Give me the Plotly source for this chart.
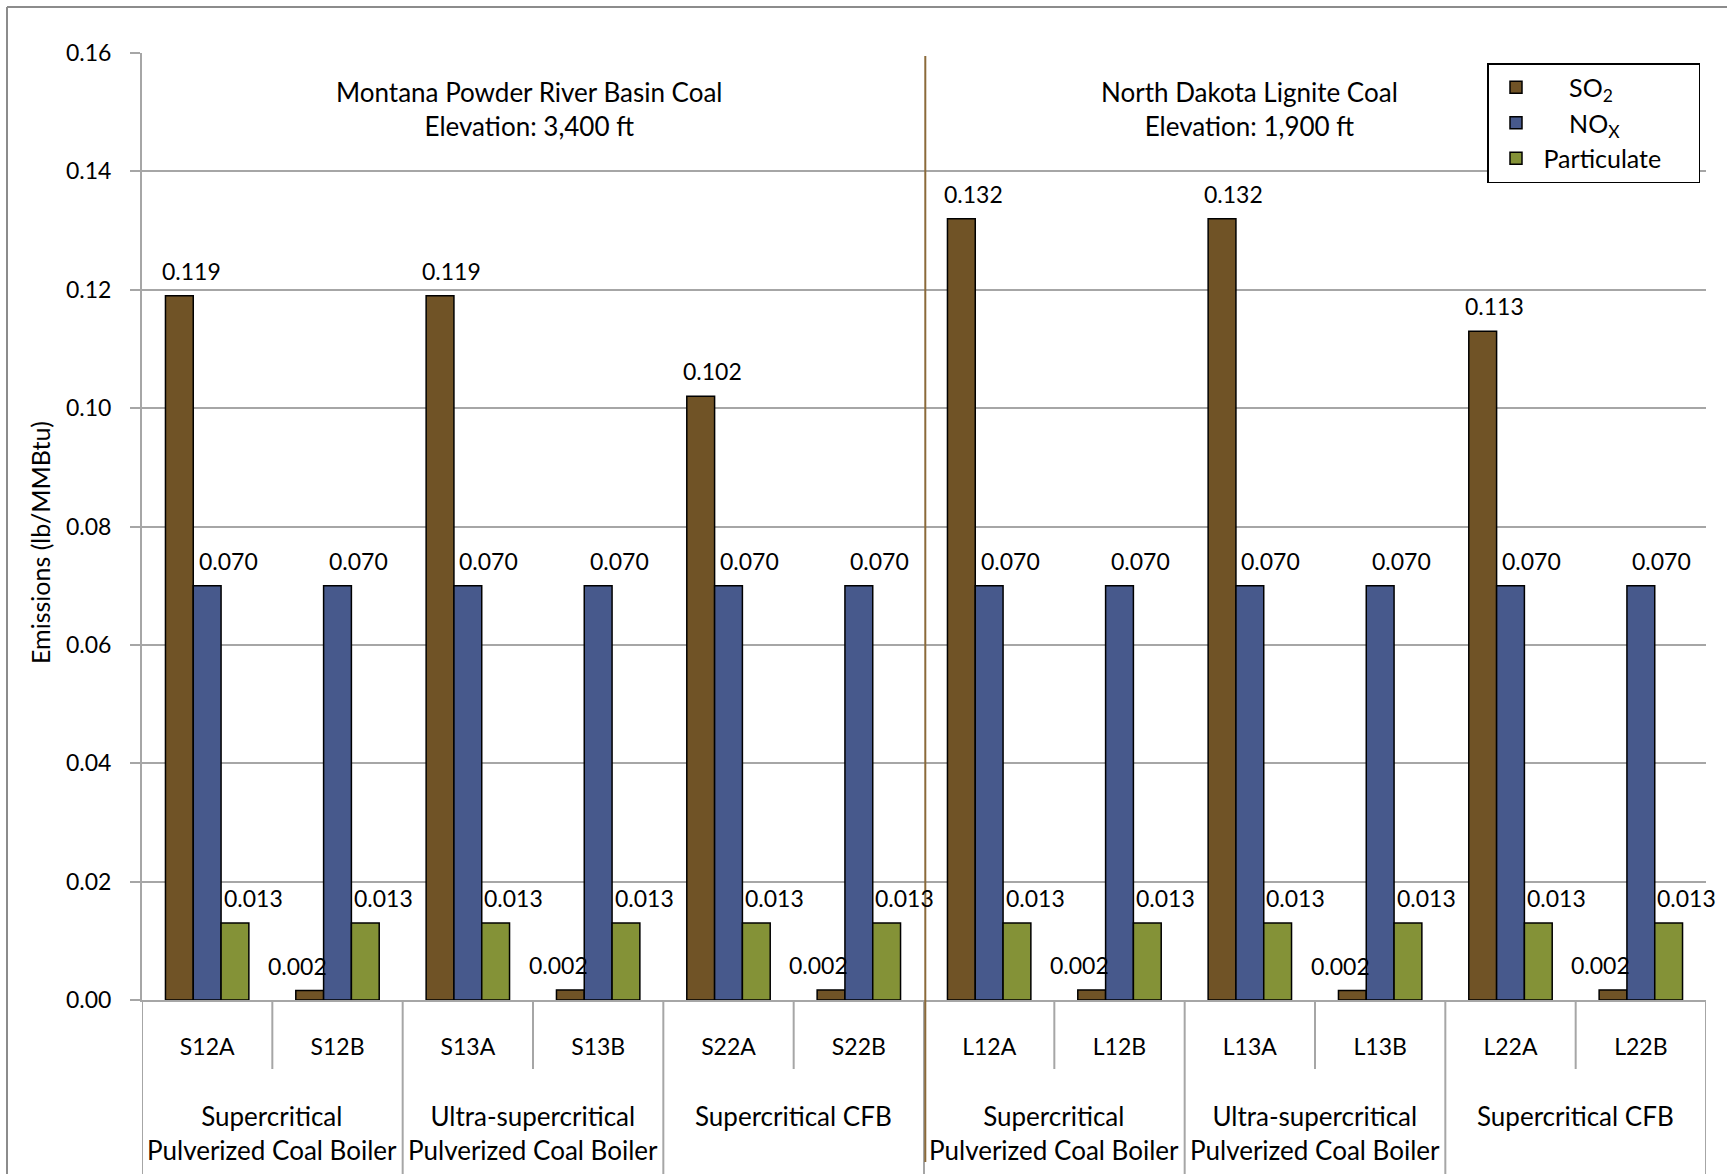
import plotly.graph_objects as go

cases = ["S12A", "S12B", "S13A", "S13B", "S22A", "S22B",
         "L12A", "L12B", "L13A", "L13B", "L22A", "L22B"]
boiler_types = ["Supercritical<br>Pulverized Coal Boiler",
                "Ultra-supercritical<br>Pulverized Coal Boiler",
                "Supercritical CFB",
                "Supercritical<br>Pulverized Coal Boiler",
                "Ultra-supercritical<br>Pulverized Coal Boiler",
                "Supercritical CFB"]
regions = ["Montana Powder River Basin Coal<br>Elevation: 3,400 ft",
           "North Dakota Lignite Coal<br>Elevation: 1,900 ft"]
y_title = "Emissions (lb/MMBtu)"

so2 = [0.119, 0.0016, 0.119, 0.0017, 0.102, 0.0017,
       0.132, 0.0017, 0.132, 0.0016, 0.113, 0.0017]
nox = [0.070] * 12
particulate = [0.013] * 12

NB = "\u00a0"
series_names = [NB * 4 + "SO<sub>2</sub>",
                NB * 4 + "NO<sub>X</sub>",
                "Particulate" + NB * 5]
colors = ["#705326", "#47598C", "#849237"]

FONT = "Lato"
fig = go.Figure()
for name, vals, col in zip(series_names, [so2, nox, particulate], colors):
    fig.add_trace(go.Bar(
        x=cases, y=vals, name=name,
        marker=dict(color=col, line=dict(color="black", width=1.5)),
        cliponaxis=False,
    ))

W, H = 1727, 1174
L, R, T, B = 142, 21, 53, 174
PH = H - T - B
PW = W - L - R

def py(pix):
    return 1 - (pix - T) / PH

def px(pix):
    return (pix - L) / PW

annotations = []
label_shift = [(-16, -40), (21, 21), (46, 46)]
for vals, (big, small) in zip([so2, nox, particulate], label_shift):
    for c, v in zip(cases, vals):
        annotations.append(dict(
            x=c, xref="x", y=v, yref="y", text=f"{v:.3f}", showarrow=False,
            xanchor="center", yanchor="middle",
            xshift=big if v > 0.005 else small, yshift=25,
            font=dict(size=23, family=FONT, color="black")))

shapes = []
grid = "#A6A6A6"
for k in range(6):
    shapes.append(dict(type="line", xref="x", yref="paper",
                       x0=2 * k + 0.5, x1=2 * k + 0.5, y0=0, y1=py(1069),
                       line=dict(color=grid, width=2)))
for k in range(7):
    shapes.append(dict(type="line", xref="x", yref="paper",
                       x0=2 * k - 0.5, x1=2 * k - 0.5, y0=0, y1=py(1180),
                       line=dict(color=grid, width=2)))
shapes.append(dict(type="line", xref="x", yref="paper",
                   x0=5.51, x1=5.51, y0=py(56), y1=py(1162),
                   line=dict(color="#8B6A3A", width=2)))
shapes.append(dict(type="line", xref="paper", yref="paper",
                   x0=px(7), x1=px(7), y0=py(7), y1=py(1180),
                   line=dict(color="#8C8C8C", width=2)))
shapes.append(dict(type="line", xref="paper", yref="paper",
                   x0=px(7), x1=px(1740), y0=py(7), y1=py(7),
                   line=dict(color="#8C8C8C", width=2)))

for k, bt in enumerate(boiler_types):
    annotations.append(dict(x=2 * k + 0.5, xref="x", y=py(1098), yref="paper",
                            text=bt, showarrow=False, yanchor="top",
                            xanchor="center",
                            font=dict(size=26, family=FONT, color="black")))
for xpos, rg in zip([2.47, 8.0], regions):
    annotations.append(dict(x=xpos, xref="x", y=py(74), yref="paper",
                            text=rg, showarrow=False, yanchor="top",
                            xanchor="center",
                            font=dict(size=26, family=FONT, color="black")))
annotations.append(dict(x=px(40), xref="paper", y=py(543), yref="paper",
                        text=y_title, showarrow=False, textangle=-90,
                        xanchor="center", yanchor="middle",
                        font=dict(size=25, family=FONT, color="black")))

fig.update_layout(
    width=W, height=H,
    margin=dict(l=L, r=R, t=T, b=B, autoexpand=False),
    paper_bgcolor="white", plot_bgcolor="white",
    barmode="group", bargap=0.36, bargroupgap=0,
    font=dict(family=FONT, size=23, color="black"),
    shapes=shapes, annotations=annotations,
    legend=dict(x=px(1487), y=py(63), xanchor="left", yanchor="top",
                bordercolor="black", borderwidth=1.5, bgcolor="white",
                font=dict(size=25, family=FONT, color="black"),
                itemwidth=45, traceorder="normal"),
    xaxis=dict(type="category", showgrid=False, showline=True,
               linecolor=grid, linewidth=2, ticks="",
               ticklabelstandoff=25,
               tickfont=dict(size=23, family=FONT, color="black"),
               range=[-0.5, 11.5]),
    yaxis=dict(range=[0, 0.16], dtick=0.02, tickformat=".2f",
               showgrid=True, gridcolor=grid, gridwidth=2,
               showline=True, linecolor=grid, linewidth=2,
               ticks="outside", ticklen=10, tickcolor=grid, tickwidth=2,
               ticklabelstandoff=14,
               tickfont=dict(size=23, family=FONT, color="black"),
               zeroline=False),
)

fig.write_html("out.html")
